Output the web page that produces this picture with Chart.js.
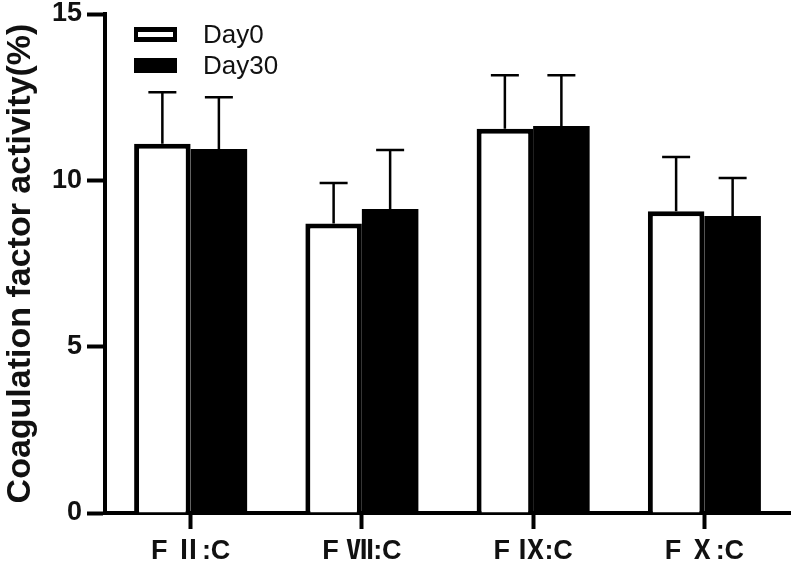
<!DOCTYPE html>
<html>
<head>
<meta charset="utf-8">
<script src="https://cdn.jsdelivr.net/npm/chart.js@4/dist/chart.umd.min.js"></script>
<style>
html,body{margin:0;padding:0;background:#fff;}
#wrap{width:800px;height:568px;position:relative;}
</style>
</head>
<body>
<div id="wrap"><canvas id="c" width="800" height="568"></canvas></div>
<script>
const categories = ['F Ⅱ:C', 'F Ⅶ:C', 'F Ⅸ:C', 'F Ⅹ:C'];
const seriesNames = ['Day0', 'Day30'];
const day0Values = [11.1, 8.7, 11.55, 9.07];
const day0Errors = [1.55, 1.22, 1.61, 1.63];
const day30Values = [10.94, 9.14, 11.63, 8.93];
const day30Errors = [1.56, 1.77, 1.53, 1.14];
const yTicks = [0, 5, 10, 15];

const errorBars = {
  id: 'errorBars',
  afterDatasetsDraw(chart) {
    const ctx = chart.ctx;
    const y = chart.scales.y;
    chart.data.datasets.forEach((ds, di) => {
      const meta = chart.getDatasetMeta(di);
      meta.data.forEach((bar, i) => {
        const top = y.getPixelForValue(ds.data[i] + ds.errors[i]);
        ctx.save();
        ctx.strokeStyle = '#000';
        ctx.lineWidth = 2.5;
        ctx.beginPath();
        ctx.moveTo(bar.x, bar.y);
        ctx.lineTo(bar.x, top);
        ctx.moveTo(bar.x - 14, top);
        ctx.lineTo(bar.x + 14, top);
        ctx.stroke();
        ctx.restore();
      });
    });
  }
};

const customLegend = {
  id: 'customLegend',
  afterDraw(chart) {
    const ctx = chart.ctx;
    ctx.save();
    chart.data.datasets.forEach((ds, i) => {
      const bx = 134, by = 27 + i * 31, bw = 43, bh = 15;
      ctx.fillStyle = '#000';
      ctx.fillRect(bx, by, bw, bh);
      if (ds.backgroundColor !== '#000000') {
        ctx.fillStyle = '#fff';
        ctx.fillRect(bx + 4, by + 5, bw - 8, bh - 10);
      }
      ctx.fillStyle = '#111';
      ctx.font = '26px "Liberation Sans", Arial, sans-serif';
      ctx.textBaseline = 'middle';
      ctx.textAlign = 'left';
      ctx.fillText(ds.label, 203, by + bh / 2 + 1);
    });
    ctx.restore();
  }
};

new Chart(document.getElementById('c'), {
  type: 'bar',
  data: {
    labels: categories,
    datasets: [
      { label: seriesNames[0], data: day0Values, errors: day0Errors,
        backgroundColor: '#ffffff', borderColor: '#000000', borderWidth: 5, borderSkipped: 'bottom' },
      { label: seriesNames[1], data: day30Values, errors: day30Errors,
        backgroundColor: '#000000', borderColor: '#000000', borderWidth: 0 }
    ]
  },
  options: {
    responsive: false,
    animation: false,
    devicePixelRatio: 1,
    layout: { padding: { top: 14, right: 10, left: 0, bottom: 0 } },
    datasets: { bar: { categoryPercentage: 0.66, barPercentage: 1.0 } },
    plugins: { legend: { display: false }, tooltip: { enabled: false } },
    scales: {
      x: {
        grid: { display: true, drawOnChartArea: false, offset: false, tickLength: 16, tickWidth: 4, tickColor: '#000' },
        border: { display: true, color: '#000', width: 4 },
        ticks: { color: '#111', padding: 6, font: { size: 27, weight: 'bold', family: '"Liberation Sans", "Noto Sans CJK SC", Arial, sans-serif' } },
        afterFit(s) { s.height = 55; s.paddingLeft = 0; s.paddingRight = 0; }
      },
      y: {
        min: 0, max: 15,
        afterBuildTicks(s) { s.ticks = yTicks.map(v => ({ value: v })); },
        grid: { display: true, drawOnChartArea: false, tickLength: 18, tickWidth: 4, tickColor: '#000' },
        border: { display: true, color: '#000', width: 4 },
        ticks: { color: '#111', padding: 5, font: { size: 27, weight: 'bold', family: '"Liberation Sans", Arial, sans-serif' } },
        title: { display: true, text: 'Coagulation factor activity(%)', color: '#111', padding: { top: 0, bottom: 0 },
          font: { size: 34, weight: 'bold', family: '"Liberation Sans", Arial, sans-serif' } },
        afterFit(s) { s.width = 105; s.paddingTop = 0; s.paddingBottom = 0; }
      }
    }
  },
  plugins: [errorBars, customLegend]
});
</script>
</body>
</html>
